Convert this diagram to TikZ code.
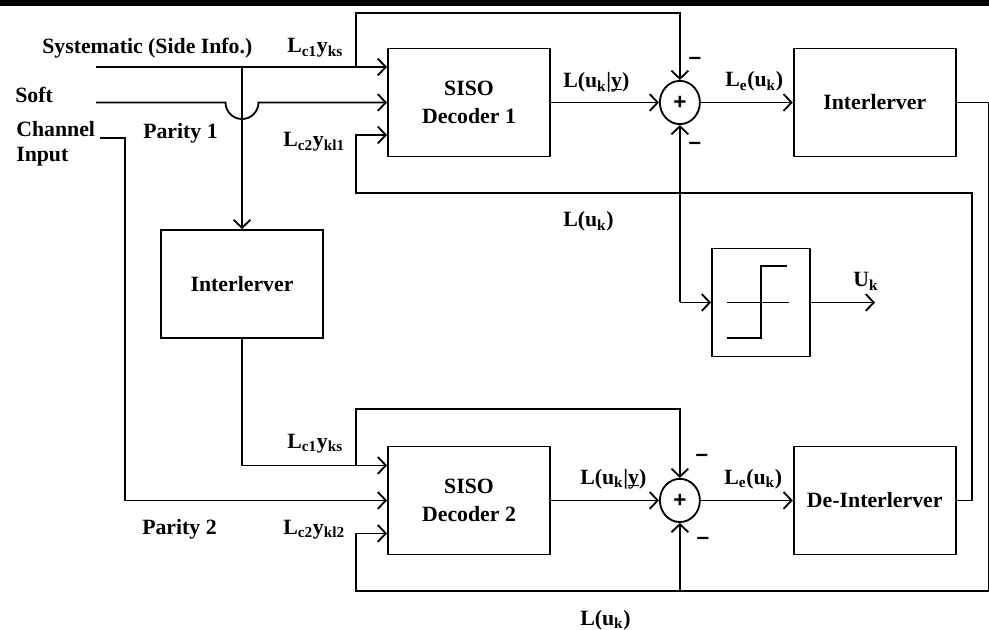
\documentclass[tikz,border=0pt]{standalone}
\usepackage{fontspec}
\setmainfont{Liberation Serif}
\newfontfamily\plusfont{Liberation Sans}
\usepackage{tikz}
\usetikzlibrary{shapes,arrows.meta,positioning,calc}
\newcommand{\uy}{\rlap{\rule[-1.2pt]{0.48em}{0.8pt}}y}

\begin{document}
\begin{tikzpicture}[
  x=0.025cm, y=-0.025cm,
  block/.style={rectangle, draw, line width=1.3pt, minimum width=4.05cm,
                minimum height=2.7cm, align=center},
  sum/.style={ellipse, draw, line width=1.3pt, minimum width=1cm, minimum height=1.08cm,
              inner sep=0pt, font=\plusfont\bfseries\fontsize{16}{20}\selectfont},
  arrow/.style={-{Straight Barb[length=2mm,width=4.2mm]}, line width=1.3pt},
  wire/.style={line width=1.3pt},
  lbl/.style={anchor=base west, inner sep=0pt},
  minus/.style={inner sep=0pt, font=\plusfont\bfseries\fontsize{16}{20}\selectfont},
  font=\bfseries\fontsize{15.5}{20}\selectfont
]
\useasboundingbox (0,0) rectangle (989,630);
\fill (0,0) rectangle (989,6);

% blocks
\node[block] (dec1) at (469,102.5) {SISO\\Decoder 1};
\node[sum, right=2.7cm of dec1] (sum1) {+};
\node[block, right=2.3cm of sum1] (int1) {Interlerver};
\node[block, below=7.2cm of dec1] (dec2) {SISO\\Decoder 2};
\node[sum, right=2.7cm of dec2] (sum2) {+};
\node[block, right=2.3cm of sum2] (deint) {De-Interlerver};
\node[block] (int2) at (242,284) {Interlerver};
\node[block, minimum width=2.45cm] (hl) at (761,302.5) {};
\draw[wire, shift={(hl.center)}] (-34,0) -- (28,0);
\draw[wire, shift={(hl.center)}] (-34,35.5) -- (0,35.5) -- (0,-36.5) -- (26,-36.5);

% free ends
\coordinate (sysin) at (96,67);
\coordinate (par1in) at (96,102.5);
\coordinate (par2in) at (100,138);
\coordinate (tap1) at (356,67);
\coordinate (tap2) at (356,465.3);
\coordinate (fb1) at (356,193);
\coordinate (fb2) at (356,591);
\coordinate (tap3) at (hl.west -| sum1.south);
\coordinate (ukout) at (875,302.5);

% decoder 1 side
\draw[arrow] (sysin) -- (sysin -| dec1.west);
\draw[arrow] (sysin -| int2) -- (int2.north);
\draw[arrow] (tap1) -- ++(0,-54) -| (sum1.north);
\draw[arrow] (par1in) -- ($(par1in -| int2)+(-16.5,0)$)
  arc[start angle=180, end angle=0, radius=16.5] -- (dec1.west);
\draw[arrow] (deint.east) -- ++(15,0) |- (fb1) |- ($(dec1.west)+(0,32.5)$);
\draw[arrow] (dec1.east) -- (sum1.west);
\draw[arrow] (sum1.east) -- (int1.west);
\draw[arrow] (tap3) -- (sum1.south);
\draw[arrow] (tap3) -- (hl.west);
\draw[arrow] (hl.east) -- (ukout);

% decoder 2 side
\draw[arrow] (int2.south) |- ($(dec2.west)+(0,-35)$);
\draw[arrow] (par2in) -- ++(25,0) |- (dec2.west);
\draw[arrow] (tap2) -- ++(0,-56) -| (sum2.north);
\draw[arrow] (int1.east) -- ++(32,0) |- (fb2) |- ($(dec2.west)+(0,33)$);
\draw[arrow] (dec2.east) -- (sum2.west);
\draw[arrow] (sum2.east) -- (deint.west);
\draw[arrow] (fb2 -| sum2.south) -- (sum2.south);

% labels
\node[lbl] (sys) at (42,54) {Systematic (Side Info.)};
\node[lbl] (soft) at (15,103) {Soft};
\node[lbl] (chan) at (16,137) {Channel};
\node[lbl] (inp) at (16,162) {Input};
\node[lbl] (par1) at (143,139) {Parity 1};
\node[lbl] (lc1a) at (287,53) {L\textsubscript{c1}y\textsubscript{ks}};
\node[lbl] (lc2a) at (283,147) {L\textsubscript{c2}y\textsubscript{kl1}};
\node[lbl] (lud1) at (563,88) {L(u\textsubscript{k}|\uy)};
\node[lbl] (led1) at (725,87) {L\textsubscript{e}(u\textsubscript{k})};
\node[lbl] (lu1) at (563,227) {L(u\textsubscript{k})};
\node[lbl] (uk) at (853,287) {U\textsubscript{k}};
\node[lbl] (lc1b) at (287,448) {L\textsubscript{c1}y\textsubscript{ks}};
\node[lbl] (par2) at (142,534) {Parity 2};
\node[lbl] (lc2b) at (283,534) {L\textsubscript{c2}y\textsubscript{kl2}};
\node[lbl] (lud2) at (580,484) {L(u\textsubscript{k}|\uy)};
\node[lbl] (led2) at (724,484) {L\textsubscript{e}(u\textsubscript{k})};
\node[lbl] (lu2) at (580,625) {L(u\textsubscript{k})};
\node[minus] (m1) at (695,61) {\textendash};
\node[minus] (m2) at (695,146) {\textendash};
\node[minus] (m3) at (702,458) {\textendash};
\node[minus] (m4) at (703,541) {\textendash};
\end{tikzpicture}
\end{document}
